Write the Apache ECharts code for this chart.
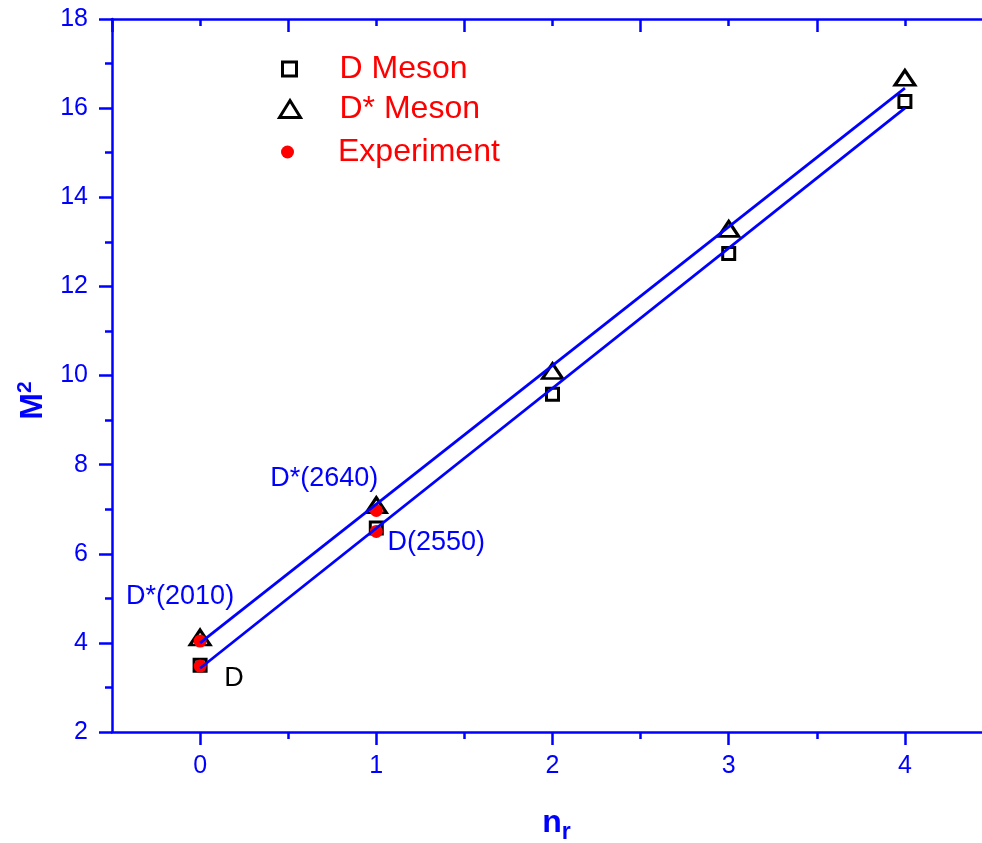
<!DOCTYPE html>
<html>
<head>
<meta charset="utf-8">
<script src="https://cdn.jsdelivr.net/npm/echarts@6/dist/echarts.min.js"></script>
<style>
  html, body { margin: 0; padding: 0; background: #fff; overflow: hidden; }
  #chart { width: 982px; height: 843px; }
</style>
</head>
<body>
<div id="chart"></div>
<script>
// values
const nr = [0, 1, 2, 3, 4];
const dMeson = [3.50, 6.58, 9.58, 12.74, 16.15];
const dStarMeson = [4.12, 7.09, 10.10, 13.29, 16.68];
const expX = [0, 0, 1, 1];
const expY = [3.48, 4.04, 6.50, 6.97];
const expNames = ['D', 'D*(2010)', 'D(2550)', 'D*(2640)'];
const fitX = [0, 4];
const fitD = [3.43, 16.0];
const fitDStar = [4.0, 16.45];

const blue = '#0000FF';
const red = '#FF0000';
const font = 'Liberation Sans, Arial, sans-serif';

// label look for each experiment point
const expLabels = [
  { color: '#000', offset: [34, 12] },
  { color: blue, offset: [-20, -45] },
  { color: blue, offset: [60, 11] },
  { color: blue, offset: [-52, -32] }
];

const hollow = { color: 'rgba(255,255,255,0)', borderColor: '#000', borderWidth: 3, opacity: 1 };

const chart = echarts.init(document.getElementById('chart'));

function legendBox(name, left, top, w, h, padLeft, style) {
  return {
    orient: 'vertical',
    left: left,
    top: top,
    padding: 0,
    itemWidth: w,
    itemHeight: h,
    selectedMode: false,
    data: [name],
    itemStyle: style,
    textStyle: { color: red, fontSize: 32, fontFamily: font, padding: [0, 0, 0, padLeft] }
  };
}

const option = {
  animation: false,
  grid: { left: 112, top: 19, right: -11, bottom: 111, outerBoundsMode: 'none' },
  legend: [
    legendBox('D Meson', 281, 53, 14, 14, 38, hollow),
    legendBox('D* Meson', 278, 93, 21, 17, 34, hollow),
    legendBox('Experiment', 281, 136, 13, 13, 39, { color: red, borderWidth: 0, opacity: 1 })
  ],
  xAxis: [
    {
      type: 'value',
      position: 'bottom',
      min: -0.5,
      max: 4.5,
      name: '{n|n}{r|r}',
      nameLocation: 'middle',
      nameGap: 71,
      nameTextStyle: {
        padding: [0, 0, 0, 8],
        rich: {
          n: { fontSize: 32, fontWeight: 'bold', color: blue, fontFamily: font },
          r: { fontSize: 23, fontWeight: 'bold', color: blue, fontFamily: font, padding: [18, 0, 0, 0] }
        }
      },
      axisLine: { onZero: false, lineStyle: { color: blue, width: 2.5 } },
      axisTick: { customValues: nr, length: 13, lineStyle: { color: blue, width: 2.5 } },
      minorTick: { show: true, splitNumber: 2, length: 7, lineStyle: { color: blue, width: 2.5 } },
      axisLabel: { customValues: nr, color: blue, fontSize: 25, fontFamily: font, margin: 22 },
      splitLine: { show: false }
    },
    {
      type: 'value',
      position: 'top',
      min: -0.5,
      max: 4.5,
      interval: 1,
      axisLine: { onZero: false, lineStyle: { color: blue, width: 2.5 } },
      axisTick: { inside: true, length: 13, lineStyle: { color: blue, width: 2.5 } },
      minorTick: { show: true, splitNumber: 2, length: 7, lineStyle: { color: blue, width: 2.5 } },
      axisLabel: { show: false },
      splitLine: { show: false }
    }
  ],
  yAxis: {
    type: 'value',
    min: 2,
    max: 18,
    interval: 2,
    name: '{m|M}{s|2}',
    nameLocation: 'middle',
    nameGap: 56,
    nameRotate: 90,
    nameTextStyle: {
      padding: [0, 50, 0, 0],
      rich: {
        m: { fontSize: 32, fontWeight: 'bold', color: blue, fontFamily: font },
        s: { fontSize: 21, fontWeight: 'bold', color: blue, fontFamily: font, padding: [0, 0, 16, 0] }
      }
    },
    axisLine: { show: true, onZero: false, lineStyle: { color: blue, width: 2.5 } },
    axisTick: { length: 13, lineStyle: { color: blue, width: 2.5 } },
    minorTick: { show: true, splitNumber: 2, length: 7, lineStyle: { color: blue, width: 2.5 } },
    axisLabel: { color: blue, fontSize: 25, fontFamily: font, margin: 24 },
    splitLine: { show: false }
  },
  series: [
    {
      name: 'D Meson',
      type: 'scatter',
      symbol: 'rect',
      symbolSize: 12,
      z: 2,
      itemStyle: hollow,
      data: nr.map((x, i) => [x, dMeson[i]])
    },
    {
      name: 'D* Meson',
      type: 'scatter',
      symbol: 'triangle',
      symbolSize: [20, 15],
      z: 3,
      itemStyle: hollow,
      data: nr.map((x, i) => [x, dStarMeson[i]])
    },
    {
      name: 'Experiment',
      type: 'scatter',
      symbol: 'circle',
      symbolSize: 13,
      z: 4,
      itemStyle: { color: red, opacity: 1 },
      data: expX.map((x, i) => ({
        value: [x, expY[i]],
        name: expNames[i],
        label: {
          show: true,
          position: 'inside',
          formatter: '{b}',
          color: expLabels[i].color,
          offset: expLabels[i].offset,
          fontSize: 27,
          fontFamily: font
        }
      }))
    },
    {
      name: 'fitD',
      type: 'line',
      symbol: 'none',
      z: 5,
      lineStyle: { color: blue, width: 2.8 },
      data: fitX.map((x, i) => [x, fitD[i]])
    },
    {
      name: 'fitDStar',
      type: 'line',
      symbol: 'none',
      z: 5,
      lineStyle: { color: blue, width: 2.8 },
      data: fitX.map((x, i) => [x, fitDStar[i]])
    }
  ]
};

chart.setOption(option);
</script>
</body>
</html>
